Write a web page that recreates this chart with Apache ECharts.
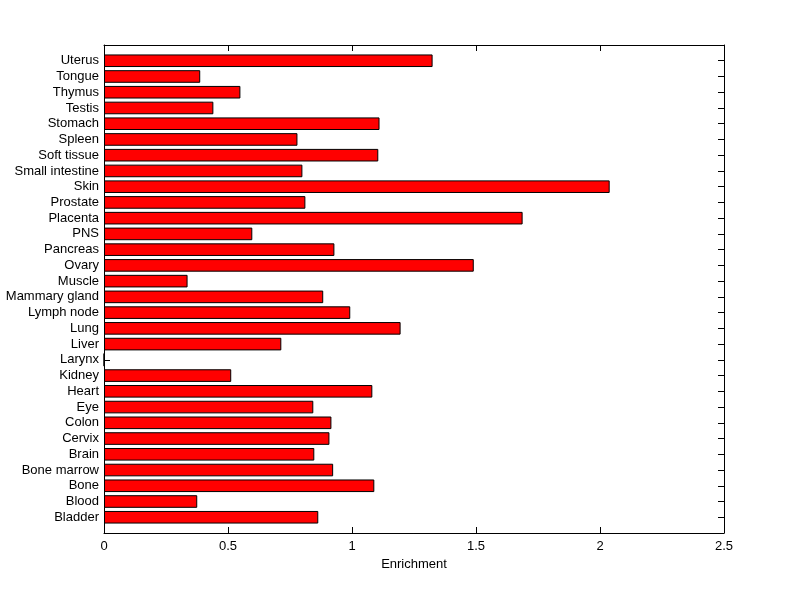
<!DOCTYPE html>
<html>
<head>
<meta charset="utf-8">
<script src="https://cdn.jsdelivr.net/npm/echarts@6/dist/echarts.min.js"></script>
<style>html,body{margin:0;padding:0;background:#fff}#c{width:800px;height:599px}</style>
</head>
<body>
<div id="c"></div>
<script>
// Categories from bottom to top
var tissues = ['Bladder','Blood','Bone','Bone marrow','Brain','Cervix','Colon','Eye','Heart','Kidney',
  'Larynx','Liver','Lung','Lymph node','Mammary gland','Muscle','Ovary','Pancreas','PNS','Placenta',
  'Prostate','Skin','Small intestine','Soft tissue','Spleen','Stomach','Testis','Thymus','Tongue','Uterus'];
var enrichment = [0.864,0.376,1.090,0.924,0.848,0.909,0.917,0.844,1.082,0.513,
  0,0.715,1.196,0.993,0.884,0.337,1.491,0.929,0.598,1.688,
  0.812,2.039,0.800,1.106,0.780,1.111,0.441,0.550,0.388,1.325];
var xTicks = [0, 0.5, 1, 1.5, 2, 2.5];

var axisCats = [''].concat(tissues).concat(['']);
var barData = ['-'].concat(enrichment).concat(['-']);

var font = 'Liberation Sans, Arial, sans-serif';
var chart = echarts.init(document.getElementById('c'));
var ls = {color:'#000', width:1};
var tick = {show:true, inside:true, length:6, interval:0, lineStyle:ls};
var line = {show:true, onZero:false, lineStyle:ls};
chart.setOption({
  animation:false,
  backgroundColor:'#fff',
  grid:{left:104, right:76, top:45, bottom:66, containLabel:false},
  xAxis:[{
    type:'value', min:0, max:2.5, interval:0.5, position:'bottom',
    name:'Enrichment', nameLocation:'middle', nameGap:23,
    nameTextStyle:{color:'#000', fontSize:13, fontFamily:font},
    axisLine:line, axisTick:tick,
    axisLabel:{color:'#000', fontSize:13, fontFamily:font, margin:7,
      formatter:function(v){return xTicks.indexOf(v)>=0 ? String(v) : '';}},
    splitLine:{show:false}
  },{
    type:'value', min:0, max:2.5, interval:0.5, position:'top',
    axisLine:line, axisTick:tick,
    axisLabel:{show:false}, splitLine:{show:false}
  }],
  yAxis:[{
    type:'category', data:axisCats, boundaryGap:false, position:'left',
    axisLine:line, axisTick:tick,
    axisLabel:{color:'#000', fontSize:13, fontFamily:font, margin:5, interval:0},
    splitLine:{show:false}
  },{
    type:'category', data:axisCats, boundaryGap:false, position:'right',
    axisLine:line, axisTick:tick,
    axisLabel:{show:false}, splitLine:{show:false}
  }],
  series:[{
    type:'bar', xAxisIndex:0, yAxisIndex:0, data:barData,
    barWidth:12.6,
    itemStyle:{color:'#ff0000', borderColor:'#000', borderWidth:1},
    z:1
  }]
});
</script>
</body>
</html>
